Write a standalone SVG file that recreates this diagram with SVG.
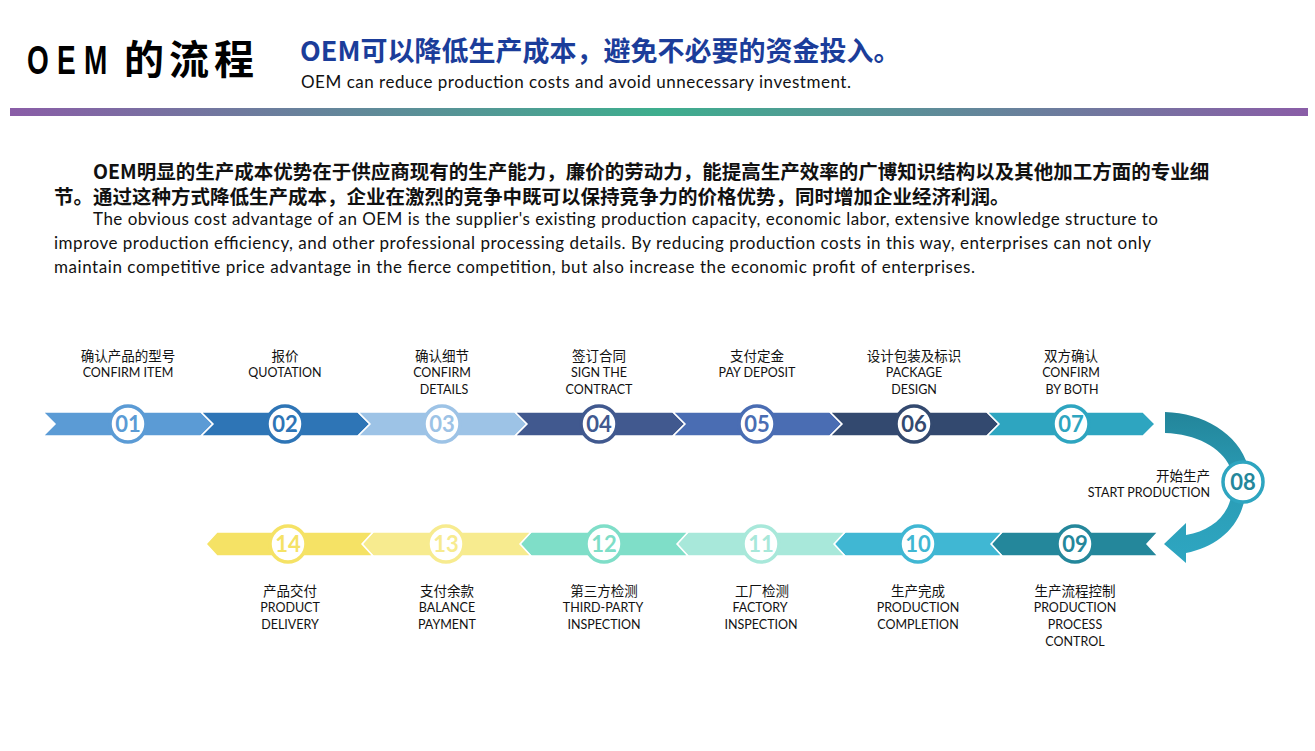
<svg xmlns="http://www.w3.org/2000/svg" width="1315" height="751" viewBox="0 0 1315 751">
<defs>
<linearGradient id="bar" x1="0" y1="0" x2="1" y2="0">
<stop offset="0" stop-color="#8A5DA7"/>
<stop offset="0.5" stop-color="#3EAE8E"/>
<stop offset="1" stop-color="#8A5DA7"/>
</linearGradient>
<linearGradient id="arc" gradientUnits="userSpaceOnUse" x1="0" y1="412" x2="0" y2="560">
<stop offset="0" stop-color="#23859A"/>
<stop offset="0.45" stop-color="#2A9BB4"/>
<stop offset="1" stop-color="#2EA6C1"/>
</linearGradient>
<style>
.seg{stroke:#fff;stroke-width:1.5;stroke-linejoin:miter}
.ring{fill:#fff;stroke-width:3.5}
.num{font-family:Lato,"Liberation Sans",sans-serif;font-weight:bold;font-size:22px;text-anchor:middle}
.cn{font-family:"Noto Sans CJK SC",sans-serif;font-size:13.5px;fill:#111;text-anchor:middle}
.en{font-family:Lato,"Liberation Sans",sans-serif;font-size:12.5px;fill:#111;text-anchor:middle}
.p-cn{font-family:"Noto Sans CJK SC",sans-serif;font-weight:bold;font-size:19.5px;fill:#111}
.p-en{font-family:Lato,"Liberation Sans",sans-serif;font-size:17px;fill:#111}
.t-lat{font-family:"Liberation Sans",sans-serif;font-weight:bold;font-size:40px;fill:#000}
</style>
</defs>
<rect width="1315" height="751" fill="#fff"/>

<g id="header">
<text class="t-lat" transform="translate(27,74) scale(0.7,1)">O</text>
<text class="t-lat" transform="translate(57,74) scale(0.7,1)">E</text>
<text class="t-lat" transform="translate(84,74) scale(0.7,1)">M</text>
<text x="124" y="74" font-family="Noto Sans CJK SC,sans-serif" font-weight="bold" font-size="40" letter-spacing="5" fill="#000">的流程</text>
<text x="300" y="61" font-family="Noto Sans CJK SC,sans-serif" font-weight="bold" font-size="27" fill="#1B3D9A">OEM可以降低生产成本，避免不必要的资金投入。</text>
<text x="301" y="88" font-family="Lato,Liberation Sans,sans-serif" font-size="17" fill="#111" textLength="550">OEM can reduce production costs and avoid unnecessary investment.</text>
<rect x="10" y="108" width="1298" height="8" fill="url(#bar)"/>
</g>

<g id="paragraph">
<text class="p-cn" x="93" y="179">OEM明显的生产成本优势在于供应商现有的生产能力，廉价的劳动力，能提高生产效率的广博知识结构以及其他加工方面的专业细</text>
<text class="p-cn" x="54" y="204">节。通过这种方式降低生产成本，企业在激烈的竞争中既可以保持竞争力的价格优势，同时增加企业经济利润。</text>
<text class="p-en" x="93" y="225" textLength="1065">The obvious cost advantage of an OEM is the supplier's existing production capacity, economic labor, extensive knowledge structure to</text>
<text class="p-en" x="54" y="249" textLength="1097">improve production efficiency, and other professional processing details. By reducing production costs in this way, enterprises can not only</text>
<text class="p-en" x="54" y="273" textLength="921">maintain competitive price advantage in the fierce competition, but also increase the economic profit of enterprises.</text>
</g>

<g id="connectors">
<path d="M1165,412 C1203,413 1238,433 1248,466 L1230,467 C1221,447 1196,434 1165,433 Z" fill="url(#arc)"/>
<path d="M1245,497 C1240,528 1216,547 1186,553 L1186,563 L1164,544 L1186,523 L1186,535 C1210,531 1227,517 1231,497 Z" fill="url(#arc)"/>
</g>

<g id="step01"><polygon class="seg" fill="#5B9BD5" points="43,412 201,412 213,424 201,436 43,436 55,424"/><circle class="ring" cx="128" cy="424" r="18" stroke="#5B9BD5"/><text class="num" x="128" y="432" fill="#5B9BD5">01</text><text class="cn" x="128" y="361">确认产品的型号</text><text class="en" x="128" y="377">CONFIRM ITEM</text></g>
<g id="step02"><polygon class="seg" fill="#2E75B6" points="201,412 358,412 370,424 358,436 201,436 213,424"/><circle class="ring" cx="285" cy="424" r="18" stroke="#2E75B6"/><text class="num" x="285" y="432" fill="#2E75B6">02</text><text class="cn" x="285" y="361">报价</text><text class="en" x="285" y="377">QUOTATION</text></g>
<g id="step03"><polygon class="seg" fill="#9DC3E6" points="358,412 515,412 527,424 515,436 358,436 370,424"/><circle class="ring" cx="442" cy="424" r="18" stroke="#9DC3E6"/><text class="num" x="442" y="432" fill="#9DC3E6">03</text><text class="cn" x="442" y="361">确认细节</text><text class="en" x="442" y="377">CONFIRM</text><text class="en" x="444" y="394">DETAILS</text></g>
<g id="step04"><polygon class="seg" fill="#41598F" points="515,412 673,412 685,424 673,436 515,436 527,424"/><circle class="ring" cx="599" cy="424" r="18" stroke="#41598F"/><text class="num" x="599" y="432" fill="#41598F">04</text><text class="cn" x="599" y="361">签订合同</text><text class="en" x="599" y="377">SIGN THE</text><text class="en" x="599" y="394">CONTRACT</text></g>
<g id="step05"><polygon class="seg" fill="#4A6DB3" points="673,412 830,412 842,424 830,436 673,436 685,424"/><circle class="ring" cx="757" cy="424" r="18" stroke="#4A6DB3"/><text class="num" x="757" y="432" fill="#4A6DB3">05</text><text class="cn" x="757" y="361">支付定金</text><text class="en" x="757" y="377">PAY DEPOSIT</text></g>
<g id="step06"><polygon class="seg" fill="#33496F" points="830,412 987,412 999,424 987,436 830,436 842,424"/><circle class="ring" cx="914" cy="424" r="18" stroke="#33496F"/><text class="num" x="914" y="432" fill="#33496F">06</text><text class="cn" x="914" y="361">设计包装及标识</text><text class="en" x="914" y="377">PACKAGE</text><text class="en" x="914" y="394">DESIGN</text></g>
<g id="step07"><polygon class="seg" fill="#2EA5C0" points="987,412 1143,412 1155,424 1143,436 987,436 999,424"/><circle class="ring" cx="1071" cy="424" r="18" stroke="#2EA5C0"/><text class="num" x="1071" y="432" fill="#2EA5C0">07</text><text class="cn" x="1071" y="361">双方确认</text><text class="en" x="1071" y="377">CONFIRM</text><text class="en" x="1072" y="394">BY BOTH</text></g>

<g id="step08"><circle class="ring" cx="1243" cy="482" r="20" stroke="#2EA5C0"/><text class="num" x="1243" y="490" fill="#24879B">08</text><text class="cn" x="1210" y="481" style="text-anchor:end">开始生产</text><text class="en" x="1210" y="497" style="text-anchor:end">START PRODUCTION</text></g>

<g id="step09"><polygon class="seg" fill="#24879B" points="991,544 1002,532 1158,532 1147,544 1158,556 1002,556"/><circle class="ring" cx="1075" cy="544" r="18" stroke="#24879B"/><text class="num" x="1075" y="552" fill="#24879B">09</text><text class="cn" x="1075" y="596">生产流程控制</text><text class="en" x="1075" y="612">PRODUCTION</text><text class="en" x="1075" y="629">PROCESS</text><text class="en" x="1075" y="646">CONTROL</text></g>
<g id="step10"><polygon class="seg" fill="#40B7D3" points="834,544 845,532 1002,532 991,544 1002,556 845,556"/><circle class="ring" cx="918" cy="544" r="18" stroke="#40B7D3"/><text class="num" x="918" y="552" fill="#40B7D3">10</text><text class="cn" x="918" y="596">生产完成</text><text class="en" x="918" y="612">PRODUCTION</text><text class="en" x="918" y="629">COMPLETION</text></g>
<g id="step11"><polygon class="seg" fill="#A8E8DA" points="677,544 688,532 845,532 834,544 845,556 688,556"/><circle class="ring" cx="761" cy="544" r="18" stroke="#A8E8DA"/><text class="num" x="761" y="552" fill="#A8E8DA">11</text><text class="cn" x="762" y="596">工厂检测</text><text class="en" x="760" y="612">FACTORY</text><text class="en" x="761" y="629">INSPECTION</text></g>
<g id="step12"><polygon class="seg" fill="#7FDEC8" points="520,544 531,532 688,532 677,544 688,556 531,556"/><circle class="ring" cx="604" cy="544" r="18" stroke="#7FDEC8"/><text class="num" x="604" y="552" fill="#7FDEC8">12</text><text class="cn" x="604" y="596">第三方检测</text><text class="en" x="603" y="612">THIRD-PARTY</text><text class="en" x="604" y="629">INSPECTION</text></g>
<g id="step13"><polygon class="seg" fill="#F7EB8F" points="362,544 373,532 531,532 520,544 531,556 373,556"/><circle class="ring" cx="446" cy="544" r="18" stroke="#F7EB8F"/><text class="num" x="446" y="552" fill="#F7EB8F">13</text><text class="cn" x="447" y="596">支付余款</text><text class="en" x="447" y="612">BALANCE</text><text class="en" x="447" y="629">PAYMENT</text></g>
<g id="step14"><polygon class="seg" fill="#F5E265" points="206,544 217,532 373,532 362,544 373,556 217,556"/><circle class="ring" cx="288" cy="544" r="18" stroke="#F5E265"/><text class="num" x="288" y="552" fill="#F5E265">14</text><text class="cn" x="290" y="596">产品交付</text><text class="en" x="290" y="612">PRODUCT</text><text class="en" x="290" y="629">DELIVERY</text></g>
</svg>
